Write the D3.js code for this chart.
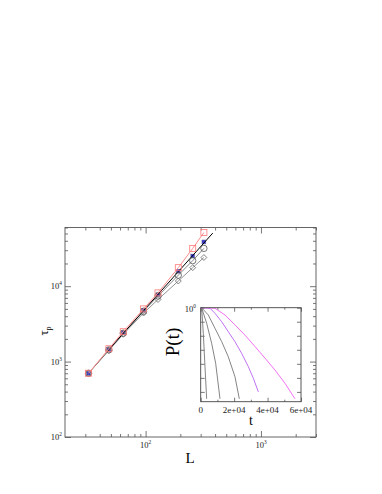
<!DOCTYPE html>
<html>
<head>
<meta charset="utf-8">
<script src="https://cdn.jsdelivr.net/npm/d3@7"></script>
<style>
body { margin: 0; background: #fff; }
svg { display: block; font-family: "Liberation Serif", serif; }
</style>
</head>
<body>
<div id="chart"></div>
<script>
// main plot data: relaxation time vs system size
var sizes = [32, 48, 64, 96, 128, 192, 256, 320];
var tauSquares = [700, 1480, 2490, 5000, 8150, 17600, 31700, 51400];
var tauFilled = [700, 1450, 2420, 4800, 7740, 15800, 25100, 38600];
var tauCircles = [700, 1430, 2380, 4650, 7400, 14000, 21800, 31700];
var tauDiamonds = [700, 1400, 2300, 4400, 6650, 11700, 17600, 24000];
var fitL = [46, 382];
var fitTau = [1345, 50600];

// inset data: survival probability P(t)
var curve1T = [0, 600, 1560, 2570, 3560];
var curve1P = [1, 0.9, 0.015, 6.3e-5, 3.2e-7];
var curve2T = [0, 600, 3560, 6550, 8950, 11540];
var curve2P = [1, 0.95, 0.078, 2.9e-3, 1.1e-4, 3.2e-7];
var curve3T = [0, 600, 4560, 8550, 12560, 16500, 20500, 23100];
var curve3P = [1, 0.98, 0.30, 0.034, 3.8e-3, 3.2e-4, 1.2e-5, 3.2e-7];
var curve4T = [0, 600, 5560, 8550, 12560, 16500, 20500, 24500, 28500, 31500, 34500];
var curve4P = [1, 1, 0.91, 0.4, 0.1, 0.0195, 3.8e-3, 5.6e-4, 6.3e-5, 9.3e-6, 1e-6];
var curve5T = [0, 2570, 8550, 14540, 20520, 26500, 32500, 38500, 44450, 50430, 56400];
var curve5P = [1, 1, 0.91, 0.30, 0.059, 0.011, 1.7e-3, 2.5e-4, 3.6e-5, 4.1e-6, 3.2e-7];

var W = 382, H = 494;
var svg = d3.select('#chart').append('svg')
	.attr('width', W)
	.attr('height', H);

// main scales
var x = d3.scaleLog().domain([20, 3000]).range([65, 316]);
var y = d3.scaleLog().domain([100, 60000]).range([437, 227.5]);

var minorX = [30, 40, 50, 60, 70, 80, 90, 200, 300, 400, 500, 600, 700, 800, 900, 2000, 3000];
var minorY = [];
[100, 1000, 10000].forEach(function (d) {
	for (var k = 2; k <= 9; k++) if (d * k <= 60000) minorY.push(d * k);
});

function ticks(g, axis, vals, size) {
	g.call(axis.tickValues(vals).tickSize(size).tickFormat(''));
	g.select('.domain').remove();
	g.selectAll('line').attr('stroke', '#555').attr('stroke-width', 0.8);
}

var axes = svg.append('g');
[[d3.axisBottom(x), 437, 'x'], [d3.axisTop(x), 227.5, 'x'], [d3.axisLeft(y), 65, 'y'], [d3.axisRight(y), 316, 'y']].forEach(function (a) {
	var isX = a[2] === 'x';
	var major = isX ? [100, 1000] : [100, 1000, 10000];
	var minor = isX ? minorX : minorY;
	var tr = isX ? 'translate(0,' + a[1] + ')' : 'translate(' + a[1] + ',0)';
	ticks(axes.append('g').attr('transform', tr), a[0], major, -6);
	ticks(axes.append('g').attr('transform', tr), a[0].scale(isX ? x : y), minor, -3);
});

svg.append('rect')
	.attr('x', 65).attr('y', 227.5)
	.attr('width', 251).attr('height', 209.5)
	.attr('fill', 'none').attr('stroke', '#555').attr('stroke-width', 0.9);

function powLabel(g, px, py, exp, anchor, size) {
	var t = g.append('text')
		.attr('x', px).attr('y', py)
		.attr('text-anchor', anchor)
		.attr('font-size', size)
		.attr('fill', '#222');
	t.append('tspan').text('10');
	t.append('tspan').attr('dy', -size * 0.45).attr('font-size', size * 0.62).text(exp);
}

[[100, '2'], [1000, '3']].forEach(function (d) {
	powLabel(svg, x(d[0]), 448, d[1], 'middle', 8.5);
});
[[100, '2'], [1000, '3'], [10000, '4']].forEach(function (d) {
	powLabel(svg, 62, y(d[0]) + 3, d[1], 'end', 8.5);
});

svg.append('text')
	.attr('x', 190).attr('y', 463)
	.attr('text-anchor', 'middle')
	.attr('font-size', 15)
	.text('L');

var tl = svg.append('text')
	.attr('transform', 'translate(48,331) rotate(-90)')
	.attr('text-anchor', 'middle')
	.attr('font-size', 13);
tl.append('tspan').text('τ');
tl.append('tspan').attr('dy', 3).attr('font-size', 8).text('p');

// main series
var line = d3.line().x(d => x(d[0])).y(d => y(d[1]));
function series(vals) { return sizes.map((s, i) => [s, vals[i]]); }

var plot = svg.append('g');

plot.selectAll('.filled').data(series(tauFilled)).enter().append('rect')
	.attr('class', 'filled')
	.attr('x', d => x(d[0]) - 2).attr('y', d => y(d[1]) - 2)
	.attr('width', 4).attr('height', 4)
	.attr('fill', '#3a3ad0').attr('stroke', '#888').attr('stroke-width', 0.4);

plot.append('path').datum(series(tauDiamonds))
	.attr('d', line).attr('fill', 'none').attr('stroke', '#777').attr('stroke-width', 0.8);
plot.append('path').datum(series(tauCircles))
	.attr('d', line).attr('fill', 'none').attr('stroke', '#666').attr('stroke-width', 0.8);
plot.append('path').datum(fitL.map((l, i) => [l, fitTau[i]]))
	.attr('d', line).attr('fill', 'none').attr('stroke', '#000').attr('stroke-width', 1);

plot.selectAll('.diamond').data(series(tauDiamonds)).enter().append('path')
	.attr('class', 'diamond')
	.attr('d', d3.symbol().type(d3.symbolDiamond2).size(22))
	.attr('transform', d => 'translate(' + x(d[0]) + ',' + y(d[1]) + ')')
	.attr('fill', 'none').attr('stroke', '#666').attr('stroke-width', 0.8);

plot.selectAll('.circle').data(series(tauCircles)).enter().append('circle')
	.attr('class', 'circle')
	.attr('cx', d => x(d[0])).attr('cy', d => y(d[1])).attr('r', 3.2)
	.attr('fill', 'none').attr('stroke', '#555').attr('stroke-width', 0.8);

plot.append('path').datum(series(tauSquares))
	.attr('d', line).attr('fill', 'none').attr('stroke', '#ff8c8c').attr('stroke-width', 1);

plot.selectAll('.square').data(series(tauSquares)).enter().append('rect')
	.attr('class', 'square')
	.attr('x', d => x(d[0]) - 3).attr('y', d => y(d[1]) - 3)
	.attr('width', 6).attr('height', 6)
	.attr('fill', 'none').attr('stroke', '#ff7878').attr('stroke-width', 0.8);

// inset
var ix = d3.scaleLinear().domain([0, 60000]).range([200.7, 301]);
var iy = d3.scaleLog().domain([2e-7, 1]).range([401.7, 307.7]);

var inset = svg.append('g');
inset.append('rect')
	.attr('x', 200.7).attr('y', 307.7)
	.attr('width', 100.3).attr('height', 94)
	.attr('fill', '#fff');

svg.append('clipPath').attr('id', 'iclip')
	.append('rect').attr('x', 200.7).attr('y', 307.7).attr('width', 100.3).attr('height', 94);

var iDecades = [1e-6, 1e-5, 1e-4, 1e-3, 1e-2, 1e-1, 1];
ticks(inset.append('g').attr('transform', 'translate(0,401.7)'), d3.axisBottom(ix), [0, 20000, 40000, 60000], -4);
ticks(inset.append('g').attr('transform', 'translate(0,401.7)'), d3.axisBottom(ix), [10000, 30000, 50000], -2);
ticks(inset.append('g').attr('transform', 'translate(0,307.7)'), d3.axisTop(ix), [0, 20000, 40000, 60000], -4);
ticks(inset.append('g').attr('transform', 'translate(0,307.7)'), d3.axisTop(ix), [10000, 30000, 50000], -2);
ticks(inset.append('g').attr('transform', 'translate(200.7,0)'), d3.axisLeft(iy), iDecades, -4);
ticks(inset.append('g').attr('transform', 'translate(301,0)'), d3.axisRight(iy), iDecades, -4);

var iline = d3.line().x(d => ix(d[0])).y(d => iy(d[1]));
var curves = [
	[curve1T, curve1P, '#777'],
	[curve2T, curve2P, '#777'],
	[curve3T, curve3P, '#777'],
	[curve4T, curve4P, '#b862f0'],
	[curve5T, curve5P, '#f060f0']
];
var clipped = inset.append('g').attr('clip-path', 'url(#iclip)');
curves.forEach(function (c) {
	clipped.append('path')
		.datum(c[0].map((t, i) => [t, c[1][i]]))
		.attr('d', iline)
		.attr('fill', 'none')
		.attr('stroke', c[2])
		.attr('stroke-width', 0.9);
});

inset.append('rect')
	.attr('x', 200.7).attr('y', 307.7)
	.attr('width', 100.3).attr('height', 94)
	.attr('fill', 'none').attr('stroke', '#444').attr('stroke-width', 0.9);

['0', '2e+04', '4e+04', '6e+04'].forEach(function (lab, i) {
	inset.append('text')
		.attr('x', ix(i * 20000)).attr('y', 413)
		.attr('text-anchor', 'middle')
		.attr('font-size', 9)
		.attr('fill', '#222')
		.text(lab);
});
powLabel(inset, 196, 312, '0', 'end', 8.5);

inset.append('text')
	.attr('x', 251).attr('y', 425)
	.attr('text-anchor', 'middle')
	.attr('font-size', 14)
	.text('t');

inset.append('text')
	.attr('transform', 'translate(179,342) rotate(-90)')
	.attr('text-anchor', 'middle')
	.attr('font-size', 19)
	.text('P(t)');
</script>
</body>
</html>
